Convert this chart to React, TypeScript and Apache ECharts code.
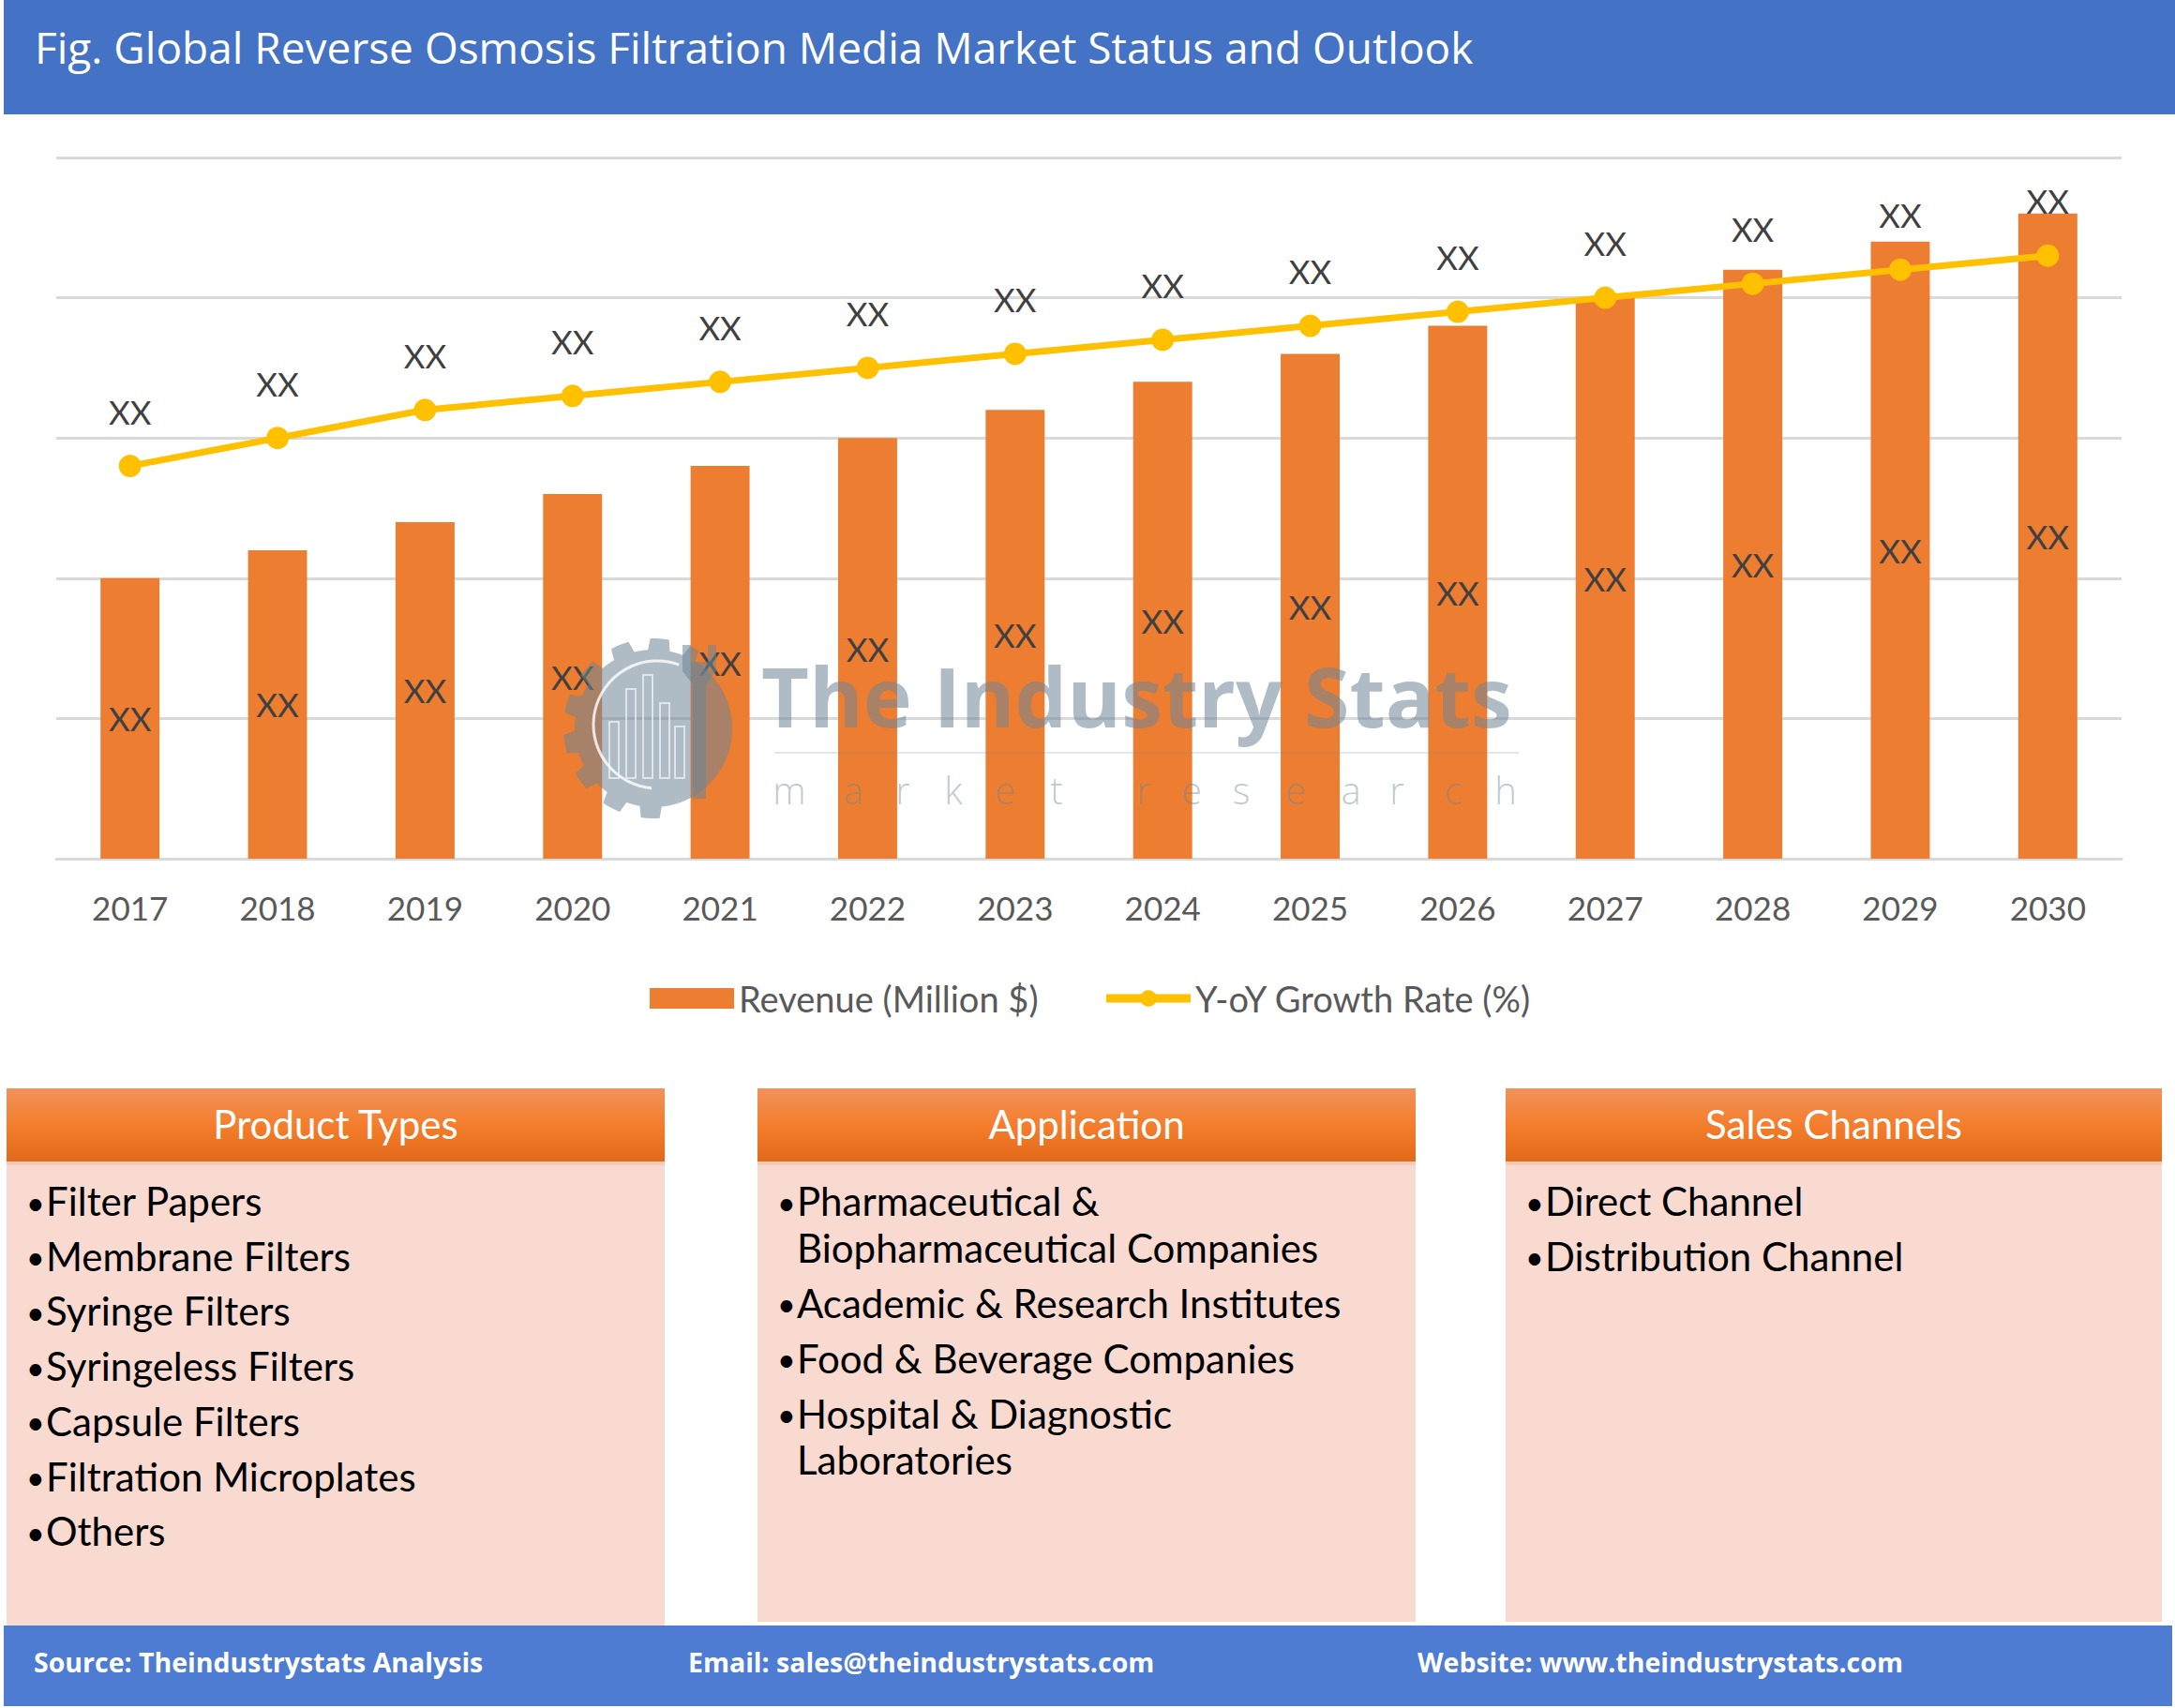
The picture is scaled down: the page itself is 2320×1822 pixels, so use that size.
import React, { useEffect, useRef } from "react";
import * as echarts from "echarts";

const years = ["2017", "2018", "2019", "2020", "2021", "2022", "2023", "2024", "2025", "2026", "2027", "2028", "2029", "2030"];
const revenue = [2.0, 2.2, 2.4, 2.6, 2.8, 3.0, 3.2, 3.4, 3.6, 3.8, 4.0, 4.2, 4.4, 4.6];
const growth = [2.8, 3.0, 3.2, 3.3, 3.4, 3.5, 3.6, 3.7, 3.8, 3.9, 4.0, 4.1, 4.2, 4.3];
const valueLabel = "XX";
const seriesNames = ["Revenue (Million $)", "Y-oY Growth Rate (%)"];

const titleText = "Fig. Global Reverse Osmosis Filtration Media Market Status and Outlook";
const productTypes = ["Filter Papers", "Membrane Filters", "Syringe Filters", "Syringeless Filters", "Capsule Filters", "Filtration Microplates", "Others"];
const applications = [["Pharmaceutical &", "Biopharmaceutical Companies"], ["Academic & Research Institutes"], ["Food & Beverage Companies"], ["Hospital & Diagnostic", "Laboratories"]];
const salesChannels = ["Direct Channel", "Distribution Channel"];
const footerTexts = ["Source: Theindustrystats Analysis", "Email: sales@theindustrystats.com", "Website: www.theindustrystats.com"];
const watermarkTitle = "The Industry Stats";
const watermarkSub = "market research";

const CAL = "Lato, 'Open Sans', sans-serif";
const GEO = "'Open Sans', Inter, sans-serif";

function buildBox(x: number, w: number, bottom: number, title: string, items: string[][], rowStep: number, lineStep: number) {
  const els: any[] = [];
  els.push({ type: "rect", shape: { x, y: 1161, width: w, height: bottom - 1161 }, style: { fill: "#F8DAD0" }, z: 1 });
  els.push({
    type: "rect",
    shape: { x, y: 1161, width: w, height: 78 },
    style: {
      fill: new echarts.graphic.LinearGradient(0, 0, 0, 1, [
        { offset: 0, color: "#F1925C" },
        { offset: 0.5, color: "#F47E2C" },
        { offset: 1, color: "#E3691A" },
      ]),
    },
    z: 2,
  });
  els.push({ type: "rect", shape: { x, y: 1239, width: w, height: 4 }, style: { fill: "#F4CBB8" }, z: 2 });
  els.push({
    type: "text",
    x: x + w / 2,
    y: 1199,
    style: { text: title, fill: "#FFFFFF", font: `42px ${CAL}`, align: "center", verticalAlign: "middle" },
    z: 3,
  });
  let y = 1281;
  items.forEach((lines, i) => {
    if (i > 0) y += rowStep;
    lines.forEach((ln, j) => {
      if (j > 0) y += lineStep;
      if (j === 0) {
        els.push({ type: "text", x: x + 21, y: y + 1, style: { text: "•", fill: "#000000", font: `34px ${CAL}`, align: "left", verticalAlign: "middle" }, z: 3 });
      }
      els.push({ type: "text", x: x + 42, y, style: { text: ln, fill: "#000000", font: `42px ${CAL}`, align: "left", verticalAlign: "middle" }, z: 3 });
    });
  });
  return els;
}

function buildWatermark() {
  const col = "#6E8596";
  const op = 0.55;
  const Z = 100;
  const els: any[] = [];
  const cx = 697, cy = 777;
  // gear outline polygon (teeth on the left/bottom side)
  const pts: number[][] = [];
  const rad = (d: number) => (d * Math.PI) / 180;
  for (let a = 0; a < 360; a += 2) {
    let r = 84;
    if (a >= 80 && a <= 300) {
      const phase = ((a - 80) % 26 + 26) % 26;
      if (phase >= 6 && phase <= 18) r = 96;
    }
    pts.push([cx + r * Math.cos(rad(a)), cy + r * Math.sin(rad(a))]);
  }
  els.push({ type: "polygon", shape: { points: pts }, style: { fill: col, opacity: op }, z: Z });
  // inner white arc
  els.push({ type: "arc", shape: { cx: cx + 4, cy: cy - 4, r: 68, startAngle: rad(95), endAngle: rad(290), clockwise: true }, style: { stroke: "#FFFFFF", lineWidth: 3, opacity: 0.8, fill: "none" }, z: Z + 1 });
  // buildings
  const bx = [650, 668, 686, 704, 720];
  const bh = [60, 95, 110, 80, 55];
  bx.forEach((x, i) => {
    els.push({ type: "rect", shape: { x, y: 830 - bh[i], width: 10, height: bh[i] }, style: { fill: "none", stroke: "#FFFFFF", lineWidth: 2, opacity: 0.6 }, z: Z + 1 });
  });
  // wrench
  els.push({
    type: "polygon",
    shape: { points: [[728, 688], [737, 688], [737, 706], [755, 706], [755, 688], [764, 688], [764, 716], [753, 730], [753, 852], [739, 852], [739, 730], [728, 716]] },
    style: { fill: col, opacity: op },
    z: Z,
  });
  els.push({ type: "text", x: 812, y: 742, style: { text: watermarkTitle, fill: col, opacity: op, font: `700 88px ${GEO}`, verticalAlign: "middle" }, z: Z });
  els.push({ type: "line", shape: { x1: 826, y1: 803, x2: 1620, y2: 803 }, style: { stroke: col, lineWidth: 2, opacity: 0.2 }, z: Z });
  const letters = watermarkSub.replace(" ", "").split("");
  const lx = [842, 910, 963, 1017, 1072, 1127, 1220, 1271, 1324, 1382, 1441, 1490, 1550, 1606];
  letters.forEach((ch, i) => {
    els.push({ type: "text", x: lx[i], y: 842, style: { text: ch, fill: col, opacity: 0.45, font: `300 40px ${GEO}`, align: "center", verticalAlign: "middle" }, z: Z });
  });
  return els;
}

export default function App() {
  const ref = useRef<HTMLDivElement>(null);
  useEffect(() => {
    if (!ref.current) return;
    const chart = echarts.init(ref.current, undefined, { renderer: "svg", width: 2320, height: 1822 });

    const graphics: any[] = [];
    graphics.push({ type: "rect", shape: { x: 4, y: 0, width: 2316, height: 122 }, style: { fill: "#4472C4" }, z: 1 });
    graphics.push({ type: "text", x: 37, y: 50, style: { text: titleText, fill: "#FFFFFF", font: `500 46px ${GEO}`, verticalAlign: "middle" }, z: 2 });

    graphics.push(...buildBox(7, 702, 1734, "Product Types", productTypes.map((p) => [p]), 58.7, 0));
    graphics.push(...buildBox(808, 702, 1730, "Application", applications, 59, 49.5));
    graphics.push(...buildBox(1606, 700, 1730, "Sales Channels", salesChannels.map((p) => [p]), 58.7, 0));

    graphics.push({ type: "rect", shape: { x: 4, y: 1734, width: 2313, height: 86 }, style: { fill: "#4D7CD2" }, z: 1 });
    const fx = [36, 734, 1512];
    footerTexts.forEach((t, i) => {
      graphics.push({ type: "text", x: fx[i], y: 1773, style: { text: t, fill: "#FFFFFF", font: `700 28.5px ${GEO}`, verticalAlign: "middle" }, z: 2 });
    });

    graphics.push(...buildWatermark());

    chart.setOption({
      animation: false,
      backgroundColor: "#FFFFFF",
      grid: { left: 60, right: 57, top: 168, bottom: 906, containLabel: false },
      legend: {
        left: 688,
        top: 1041,
        itemWidth: 90,
        itemHeight: 22,
        itemGap: 68,
        textStyle: { fontFamily: CAL, fontSize: 38, color: "#595959" },
        data: [
          { name: seriesNames[0], icon: "rect" },
          { name: seriesNames[1], lineStyle: { width: 9, color: "#FFC000" }, itemStyle: { color: "#FFC000" } },
        ],
      },
      xAxis: {
        type: "category",
        data: years,
        axisLine: { show: true, lineStyle: { color: "#D9D9D9", width: 3 } },
        axisTick: { show: false },
        axisLabel: { fontFamily: CAL, fontSize: 35, color: "#595959", margin: 34 },
      },
      yAxis: {
        type: "value",
        min: 0,
        max: 5,
        interval: 1,
        axisLabel: { show: false },
        axisLine: { show: false },
        axisTick: { show: false },
        splitLine: { lineStyle: { color: "#D9D9D9", width: 3 } },
      },
      series: [
        {
          name: seriesNames[0],
          type: "bar",
          data: revenue,
          barWidth: "40%",
          itemStyle: { color: "#ED7D31" },
          label: { show: true, position: "inside", formatter: () => valueLabel, fontFamily: CAL, fontSize: 35, color: "#404040" },
          z: 2,
        },
        {
          name: seriesNames[1],
          type: "line",
          data: growth,
          symbol: "circle",
          symbolSize: 24,
          lineStyle: { color: "#FFC000", width: 7 },
          itemStyle: { color: "#FFC000" },
          label: { show: true, position: "top", distance: 29, formatter: () => valueLabel, fontFamily: CAL, fontSize: 35, color: "#404040" },
          z: 3,
        },
      ],
      graphic: graphics,
    });
    return () => chart.dispose();
  }, []);
  return <div ref={ref} style={{ position: "absolute", left: 0, top: 0, width: 2320, height: 1822 }} />;
}
